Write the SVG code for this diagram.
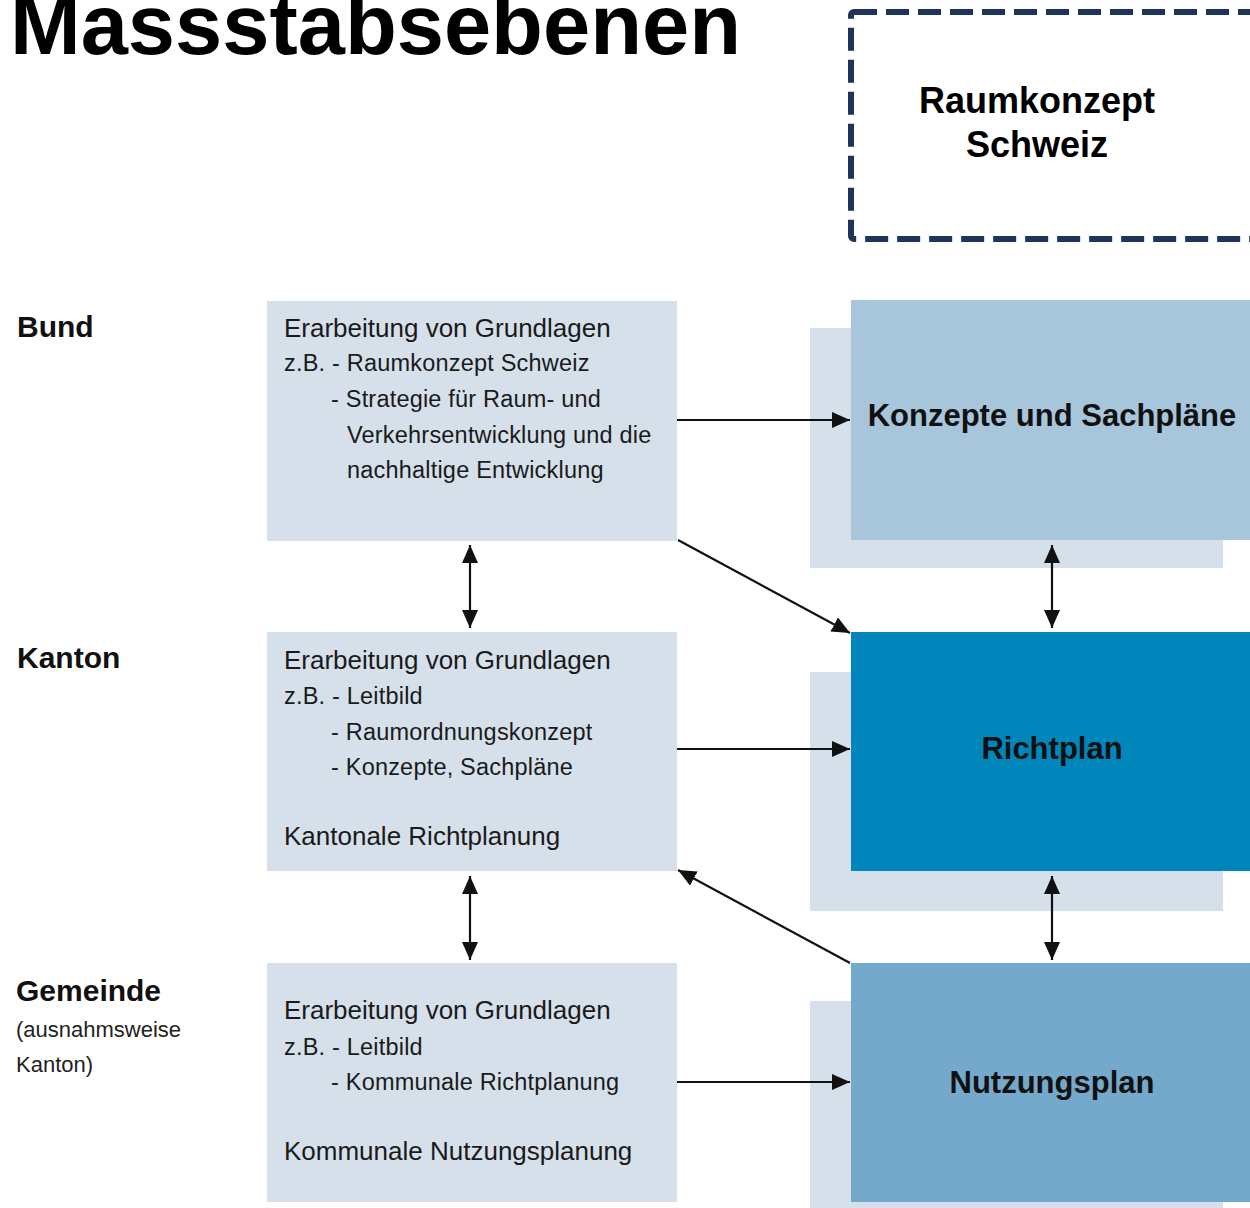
<svg xmlns="http://www.w3.org/2000/svg" width="1250" height="1208" viewBox="0 0 1250 1208">
  <style>
    .title { font-family: "Liberation Sans", Arial, sans-serif; font-weight: bold; font-size: 85px; fill: #000; }
    .head { font-family: "Liberation Sans", Arial, sans-serif; font-weight: bold; font-size: 36px; fill: #000; text-anchor: middle; }
    .level { font-family: "Liberation Sans", Arial, sans-serif; font-weight: bold; font-size: 30px; fill: #111; }
    .note { font-family: "Liberation Sans", Arial, sans-serif; font-size: 22px; fill: #222; }
    .lead { font-family: "Liberation Sans", Arial, sans-serif; font-size: 26px; fill: #1a1a1a; }
    .item { font-family: "Liberation Sans", Arial, sans-serif; font-size: 23.5px; fill: #1a1a1a; letter-spacing: 0.2px; }
    .plan { font-family: "Liberation Sans", Arial, sans-serif; font-weight: bold; font-size: 31px; fill: #111; text-anchor: middle; }
    .work { fill: #d6e0ea; }
    .shadow { fill: #d6e0ea; }
    .conn { stroke: #111; stroke-width: 2.2; fill: none; }
  </style>
  <defs>
    <marker id="arrow" viewBox="0 0 18 16" refX="18" refY="8" markerWidth="18" markerHeight="16" markerUnits="userSpaceOnUse" orient="auto-start-reverse">
      <path d="M0,0 L18,8 L0,16 Z" fill="#111"/>
    </marker>
  </defs>

  <rect width="1250" height="1208" fill="#fff"/>

  <!-- Title -->
  <text class="title" x="10" y="54" textLength="731" lengthAdjust="spacingAndGlyphs">Massstabsebenen</text>

  <!-- National concept, dashed frame -->
  <g id="raumkonzept">
    <rect x="851" y="12" width="420" height="227" rx="3" fill="none" stroke="#20335a" stroke-width="6" stroke-dasharray="23 9"/>
    <text class="head" x="1037" y="113">Raumkonzept</text>
    <text class="head" x="1037" y="157">Schweiz</text>
  </g>

  <!-- Level labels -->
  <g id="label-bund"><text class="level" x="17" y="337">Bund</text></g>
  <g id="label-kanton"><text class="level" x="17" y="668">Kanton</text></g>
  <g id="label-gemeinde">
    <text class="level" x="16" y="1001">Gemeinde</text>
    <text class="note" x="16" y="1037">(ausnahmsweise</text>
    <text class="note" x="16" y="1072">Kanton)</text>
  </g>

  <!-- Groundwork boxes -->
  <g id="grundlagen-bund">
    <rect class="work" x="267" y="301" width="410" height="240"/>
    <text class="lead" x="284" y="337">Erarbeitung von Grundlagen</text>
    <text class="item" x="284" y="371">z.B. - Raumkonzept Schweiz</text>
    <text class="item" x="331" y="407">- Strategie für Raum- und</text>
    <text class="item" x="347" y="443">Verkehrsentwicklung und die</text>
    <text class="item" x="347" y="478">nachhaltige Entwicklung</text>
  </g>
  <g id="grundlagen-kanton">
    <rect class="work" x="267" y="632" width="410" height="239"/>
    <text class="lead" x="284" y="669">Erarbeitung von Grundlagen</text>
    <text class="item" x="284" y="704">z.B. - Leitbild</text>
    <text class="item" x="331" y="740">- Raumordnungskonzept</text>
    <text class="item" x="331" y="775">- Konzepte, Sachpläne</text>
    <text class="lead" x="284" y="845">Kantonale Richtplanung</text>
  </g>
  <g id="grundlagen-gemeinde">
    <rect class="work" x="267" y="963" width="410" height="239"/>
    <text class="lead" x="284" y="1019">Erarbeitung von Grundlagen</text>
    <text class="item" x="284" y="1055">z.B. - Leitbild</text>
    <text class="item" x="331" y="1090">- Kommunale Richtplanung</text>
    <text class="lead" x="284" y="1160">Kommunale Nutzungsplanung</text>
  </g>

  <!-- Plan instruments -->
  <g id="konzepte-sachplaene">
    <rect class="shadow" x="810" y="328" width="413" height="240"/>
    <rect x="851" y="300" width="410" height="240" fill="#a7c6dc"/>
    <text class="plan" x="1052" y="426">Konzepte und Sachpläne</text>
  </g>
  <g id="richtplan">
    <rect class="shadow" x="810" y="672" width="413" height="239"/>
    <rect x="851" y="632" width="410" height="239" fill="#0086bb"/>
    <text class="plan" x="1052" y="759">Richtplan</text>
  </g>
  <g id="nutzungsplan">
    <rect class="shadow" x="810" y="1001" width="413" height="220"/>
    <rect x="851" y="963" width="410" height="239" fill="#74a9cb"/>
    <text class="plan" x="1052" y="1093">Nutzungsplan</text>
  </g>

  <!-- Connectors -->
  <g id="connectors">
    <line class="conn" x1="677" y1="420" x2="850" y2="420" marker-end="url(#arrow)"/>
    <line class="conn" x1="677" y1="749" x2="850" y2="749" marker-end="url(#arrow)"/>
    <line class="conn" x1="677" y1="1082" x2="850" y2="1082" marker-end="url(#arrow)"/>
    <line class="conn" x1="470" y1="545" x2="470" y2="628" marker-start="url(#arrow)" marker-end="url(#arrow)"/>
    <line class="conn" x1="470" y1="876" x2="470" y2="960" marker-start="url(#arrow)" marker-end="url(#arrow)"/>
    <line class="conn" x1="1052" y1="545" x2="1052" y2="628" marker-start="url(#arrow)" marker-end="url(#arrow)"/>
    <line class="conn" x1="1052" y1="876" x2="1052" y2="960" marker-start="url(#arrow)" marker-end="url(#arrow)"/>
    <line class="conn" x1="678" y1="540" x2="850" y2="633" marker-end="url(#arrow)"/>
    <line class="conn" x1="850" y1="963" x2="678" y2="870" marker-end="url(#arrow)"/>
  </g>
</svg>
